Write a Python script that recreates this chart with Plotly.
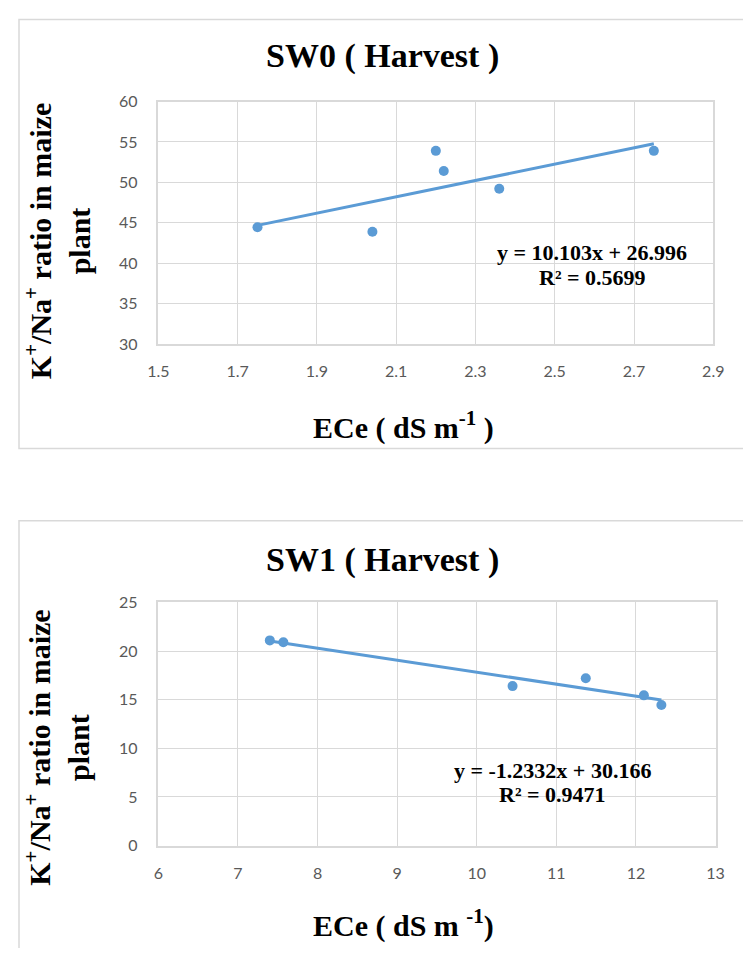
import plotly.graph_objects as go

# ---- data ----
sw0_ece = [1.75, 2.04, 2.20, 2.22, 2.36, 2.75]
sw0_ratio = [44.45, 43.9, 53.9, 51.4, 49.2, 53.9]
sw0_slope, sw0_intercept = 10.103, 26.996
sw0_r2 = 0.5699

sw1_ece = [7.40, 7.57, 10.45, 11.37, 12.10, 12.32]
sw1_ratio = [21.1, 20.9, 16.4, 17.2, 15.45, 14.45]
sw1_slope, sw1_intercept = -1.2332, 30.166
sw1_r2 = 0.9471

titles = ["SW0 ( Harvest )", "SW1 ( Harvest )"]
ytitle = "K<sup>+</sup>/Na<sup>+</sup> ratio in maize<br>plant"
xtitles = ["ECe ( dS m<sup>-1</sup> )", "ECe ( dS m <sup>-1</sup>)"]

# page is 751x956 with 8px body margin -> figure 735x940 placed at (8, 8)
W, H = 735, 940
OFF = 8
BLUE = "#5b9bd5"
GRID = "#d9d9d9"
SERIF = "Liberation Serif"
TICKFONT = dict(family="Lato", size=16, color="#595959")


def px(x):
    return (x - OFF) / W


def py(y):
    return 1 - (y - OFF) / H


fig = go.Figure()

panels = [
    dict(x=sw0_ece, y=sw0_ratio, m=sw0_slope, b=sw0_intercept, r2=sw0_r2,
         xr=[1.5, 2.9], xd=0.2, yr=[30, 60], yd=5,
         xdom=[px(151.7), px(723.7)], ydom=[py(340.7), py(93.3)],
         box=[8, 9.5, 760, 447.5], title_y=47, xt_y=424, yt_y=236,
         eq_x=599, eq_y=247, r_y=273, xax="x", yax="y"),
    dict(x=sw1_ece, y=sw1_ratio, m=sw1_slope, b=sw1_intercept, r2=sw1_r2,
         xr=[6, 13], xd=1, yr=[0, 25], yd=5,
         xdom=[px(151.7), px(726)], ydom=[py(852.7), py(604.5)],
         box=[8, 521, 760, 970], title_y=561, xt_y=932, yt_y=753,
         eq_x=558, eq_y=776, r_y=801, xax="x2", yax="y2"),
]

shapes = []
annotations = []
for i, p in enumerate(panels):
    sfx = "" if i == 0 else "2"
    x0, x1 = min(p["x"]), max(p["x"])
    fig.add_trace(go.Scatter(
        x=[x0, x1], y=[p["m"] * x0 + p["b"], p["m"] * x1 + p["b"]],
        mode="lines", line=dict(color=BLUE, width=3),
        xaxis=p["xax"], yaxis=p["yax"], showlegend=False, hoverinfo="skip"))
    fig.add_trace(go.Scatter(
        x=p["x"], y=p["y"], mode="markers",
        marker=dict(color=BLUE, size=10),
        xaxis=p["xax"], yaxis=p["yax"], showlegend=False))

    fig.update_layout(**{
        "xaxis" + sfx: dict(
            domain=p["xdom"], range=p["xr"], dtick=p["xd"], tick0=p["xr"][0],
            anchor="y" + sfx, showgrid=True, gridcolor=GRID, gridwidth=1,
            zeroline=False, showline=True, linecolor=GRID, linewidth=1.5,
            mirror=True, tickfont=TICKFONT, ticks="", ticklabelstandoff=12),
        "yaxis" + sfx: dict(
            domain=p["ydom"], range=p["yr"], dtick=p["yd"], tick0=p["yr"][0],
            anchor="x" + sfx, showgrid=True, gridcolor=GRID, gridwidth=1,
            zeroline=False, showline=True, linecolor=GRID, linewidth=1.5,
            mirror=True, tickfont=TICKFONT, ticks="", ticklabelstandoff=16),
    })

    bx0, by0, bx1, by1 = p["box"]
    shapes.append(dict(type="rect", xref="paper", yref="paper",
                       x0=px(bx0), x1=px(bx1), y0=py(by1), y1=py(by0),
                       line=dict(color=GRID, width=1.5), fillcolor="rgba(0,0,0,0)",
                       layer="below"))

    annotations.append(dict(text="<b>%s</b>" % titles[i], xref="paper", yref="paper",
                            x=px(383), y=py(p["title_y"]), showarrow=False,
                            xanchor="center", yanchor="middle",
                            font=dict(family=SERIF, size=34, color="black")))
    annotations.append(dict(text="<b>%s</b>" % xtitles[i], xref="paper", yref="paper",
                            x=px(404), y=py(p["xt_y"]), showarrow=False,
                            xanchor="center", yanchor="middle",
                            font=dict(family=SERIF, size=30, color="black")))
    annotations.append(dict(text="<b>%s</b>" % ytitle, xref="paper", yref="paper",
                            x=px(48), y=py(p["yt_y"]),
                            showarrow=False, textangle=-90,
                            xanchor="center", yanchor="middle",
                            font=dict(family=SERIF, size=30, color="black")))
    sign = "+" if p["b"] >= 0 else "-"
    eq = "y = %gx %s %g" % (p["m"], sign, abs(p["b"]))
    annotations.append(dict(text="<b>%s</b>" % eq, xref="paper", yref="paper",
                            x=px(p["eq_x"]), y=py(p["eq_y"]), showarrow=False,
                            xanchor="center", yanchor="middle",
                            font=dict(family=SERIF, size=22, color="black")))
    annotations.append(dict(text="<b>R² = %s</b>" % p["r2"], xref="paper", yref="paper",
                            x=px(p["eq_x"]), y=py(p["r_y"]), showarrow=False,
                            xanchor="center", yanchor="middle",
                            font=dict(family=SERIF, size=22, color="black")))

fig.update_layout(
    width=W, height=H, margin=dict(l=0, r=0, t=0, b=0),
    paper_bgcolor="white", plot_bgcolor="white",
    shapes=shapes, annotations=annotations, showlegend=False,
)

fig.write_html("out.html")
